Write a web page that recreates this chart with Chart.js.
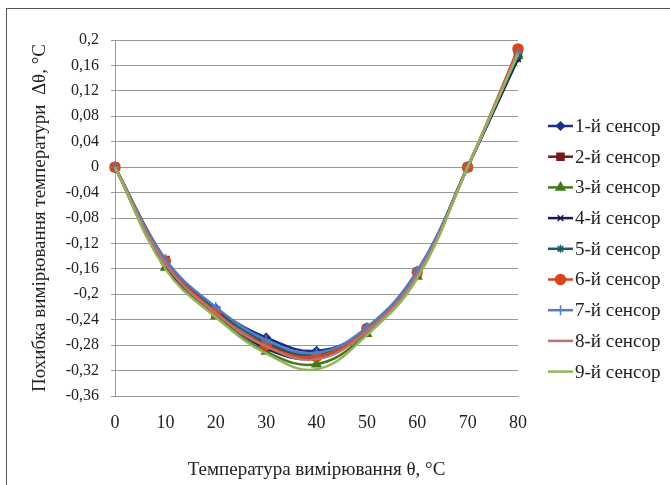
<!DOCTYPE html>
<html>
<head>
<meta charset="utf-8">
<script src="https://cdn.jsdelivr.net/npm/chart.js@4/dist/chart.umd.min.js"></script>
<style>
  html, body { margin: 0; padding: 0; background: #fff; }
  .chart { position: relative; width: 670px; height: 485px; }
</style>
</head>
<body>
<div class="chart">
  <canvas id="chart" width="670" height="485"></canvas>
</div>
<script>
const temps = ["0", "10", "20", "30", "40", "50", "60", "70", "80"]
const yTicks = [0.2, 0.16, 0.12, 0.08, 0.04, 0, -0.04, -0.08, -0.12, -0.16, -0.2, -0.24, -0.28, -0.32, -0.36]

const sensor1 = [0, -0.148, -0.222, -0.268, -0.289, -0.255, -0.165, 0, 0.172]
const sensor2 = [0, -0.146, -0.232, -0.278, -0.297, -0.254, -0.166, 0, 0.180]
const sensor3 = [0, -0.158, -0.234, -0.290, -0.310, -0.262, -0.172, 0, 0.176]
const sensor4 = [0, -0.155, -0.228, -0.285, -0.300, -0.258, -0.170, 0, 0.170]
const sensor5 = [0, -0.150, -0.225, -0.275, -0.295, -0.256, -0.168, 0, 0.175]
const sensor6 = [0, -0.148, -0.228, -0.280, -0.298, -0.254, -0.165, 0, 0.186]
const sensor7 = [0, -0.145, -0.220, -0.272, -0.292, -0.252, -0.163, 0, 0.180]
const sensor8 = [0, -0.152, -0.230, -0.282, -0.302, -0.258, -0.170, 0, 0.182]
const sensor9 = [0, -0.160, -0.236, -0.293, -0.318, -0.264, -0.175, 0, 0.178]

const names = ["1-й сенсор", "2-й сенсор", "3-й сенсор", "4-й сенсор", "5-й сенсор",
  "6-й сенсор", "7-й сенсор", "8-й сенсор", "9-й сенсор"]
const values = [sensor1, sensor2, sensor3, sensor4, sensor5, sensor6, sensor7, sensor8, sensor9]
const colors = ["#1c2f86", "#7a1616", "#3f7a1c", "#1a1a4e", "#1f5a66", "#d8461c", "#4f7fc0", "#c0706e", "#93b35a"]
const markers = ["rectRot", "rect", "triangle", "crossRot", "star", "circle", "cross", false, false]
const sizes = [4, 5, 5, 4, 4, 5, 5, 0, 0]

const FONT = "'Liberation Serif', 'Times New Roman', serif"

const datasets = values.map((v, i) => ({
  label: names[i],
  data: v,
  borderColor: colors[i],
  backgroundColor: colors[i],
  borderWidth: 2.5,
  pointStyle: markers[i],
  pointRadius: sizes[i],
  pointBorderWidth: 1.5,
  tension: 0.4,
  order: 10 - i
}))

// legend drawn as line + marker, the way the original shows it
const sideLegend = {
  id: "sideLegend",
  afterDraw(chart) {
    const ctx = chart.ctx
    ctx.save()
    ctx.font = "19px " + FONT
    ctx.textBaseline = "middle"
    chart.data.datasets.forEach((ds, i) => {
      const y = 126 + i * 30.7
      ctx.strokeStyle = ds.borderColor
      ctx.lineWidth = 2.5
      ctx.beginPath()
      ctx.moveTo(548, y)
      ctx.lineTo(573, y)
      ctx.stroke()
      if (ds.pointStyle) {
        ctx.fillStyle = ds.backgroundColor
        ctx.lineWidth = 1.5
        Chart.helpers.drawPoint(ctx, { pointStyle: ds.pointStyle, radius: ds.pointRadius, rotation: 0, borderWidth: 1.5 }, 560.5, y)
      }
      ctx.fillStyle = "#222"
      ctx.fillText(ds.label, 575, y + 1)
    })
    // outer frame
    ctx.strokeStyle = "#555"
    ctx.lineWidth = 1
    ctx.strokeRect(6.5, 8.5, 680, 500)
    ctx.restore()
  }
}

new Chart(document.getElementById("chart"), {
  type: "line",
  data: { labels: temps, datasets: datasets },
  options: {
    responsive: false,
    animation: false,
    layout: { padding: { left: 0, top: 40, right: 152, bottom: 0 } },
    plugins: { legend: { display: false }, tooltip: { enabled: false } },
    scales: {
      x: {
        offset: false,
        grid: { display: false, drawTicks: false },
        border: { color: "#999", width: 1 },
        ticks: { color: "#222", font: { family: FONT, size: 18 }, padding: 16, maxRotation: 0 },
        title: { display: true, text: "Температура вимірювання θ, °C", color: "#222", font: { family: FONT, size: 19 }, padding: { top: 3 } },
        afterFit(s) { s.height = 89 }
      },
      y: {
        min: -0.36,
        max: 0.2,
        afterBuildTicks(s) { s.ticks = yTicks.map(v => ({ value: v })) },
        grid: { color: "#999", lineWidth: 1, tickLength: 4 },
        border: { color: "#999", width: 1 },
        ticks: {
          color: "#222",
          font: { family: FONT, size: 16 },
          padding: 12,
          callback: v => String(Math.round(v * 100) / 100).replace(".", ",")
        },
        title: { display: true, text: "Похибка вимірювання температури  Δθ, °C", color: "#222", font: { family: FONT, size: 19 }, padding: { top: 29, bottom: 0 } },
        afterFit(s) { s.width = 115 }
      }
    }
  },
  plugins: [sideLegend]
})
</script>
</body>
</html>
